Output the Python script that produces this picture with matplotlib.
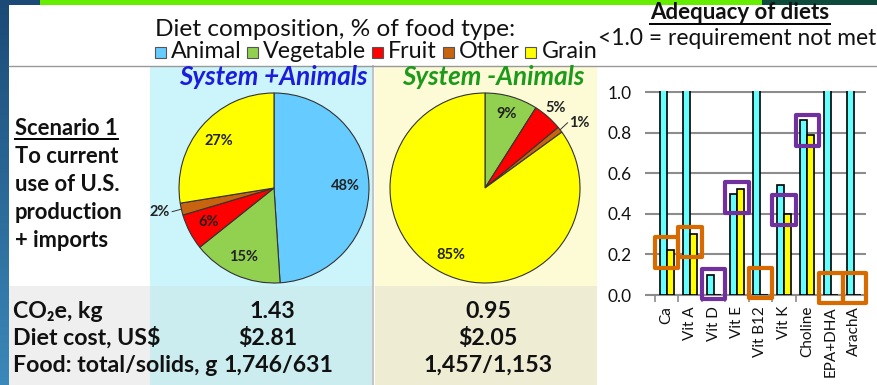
import numpy as np
import matplotlib
matplotlib.use("Agg")
import matplotlib.pyplot as plt
from matplotlib.patches import Rectangle

plt.rcParams['font.family'] = ['Lato', 'DejaVu Sans']

W, H = 878, 385

food_types = ['Animal', 'Vegetable', 'Fruit', 'Other', 'Grain']
food_colors = ['#66ccff', '#92d050', '#ff0000', '#c8640f', '#ffff00']
with_animals = [48, 15, 6, 2, 27]
without_animals = [0, 9, 5, 1, 85]

nutrients = ['Ca', 'Vit A', 'Vit D', 'Vit E', 'Vit B12', 'Vit K', 'Choline', 'EPA+DHA', 'ArachA']
adequacy_plus = [1.5, 1.5, 0.10, 0.50, 1.5, 0.54, 0.86, 1.5, 1.5]
adequacy_minus = [0.22, 0.30, 0.0, 0.52, 0.0, 0.40, 0.79, 0.0, 0.0]
flag_level = [0.21, 0.26, 0.055, 0.48, 0.06, 0.42, 0.81, 0.035, 0.035]
flag_kind = ['orange', 'orange', 'purple', 'purple', 'orange', 'purple', 'purple', 'orange', 'orange']

scenario_lines = ['To current', 'use of U.S.', 'production', '+ imports']
metric_labels = ['CO\u2082e, kg', 'Diet cost, US$', 'Food: total/solids, g']
metric_plus = ['1.43', '$2.81', '1,746/631']
metric_minus = ['0.95', '$2.05', '1,457/1,153']

fig = plt.figure(figsize=(W / 100, H / 100), dpi=100)
bg = fig.add_axes([0, 0, 1, 1])
bg.set_xlim(0, W)
bg.set_ylim(H, 0)
bg.axis('off')

# slide frame
grad = np.linspace(0, 1, 100).reshape(-1, 1)
cm = matplotlib.colors.LinearSegmentedColormap.from_list('s', ['#1b4a76', '#3b88ba'])
bg.imshow(grad, cmap=cm, extent=(0, 9, H, 0), aspect='auto', zorder=1)
bg.add_patch(Rectangle((0, 0), 40, 5, fc='#1b4a76', ec='none', zorder=1))
bg.add_patch(Rectangle((40, 0), 722, 5, fc='#66ee00', ec='none', zorder=1))
bg.add_patch(Rectangle((762, 0), 116, 5, fc='#0d4a3c', ec='none', zorder=1))

# panels
bg.add_patch(Rectangle((150, 66), 222, 220, fc='#ccf5fb', ec='none'))
bg.add_patch(Rectangle((375, 66), 222, 220, fc='#fdfbd6', ec='none'))
bg.add_patch(Rectangle((9, 286), 141, 99, fc='#efefef', ec='none'))
bg.add_patch(Rectangle((150, 286), 222, 99, fc='#cbedef', ec='none'))
bg.add_patch(Rectangle((375, 286), 222, 99, fc='#efecd4', ec='none'))
bg.plot([373.5, 373.5], [66, 385], color='#c4c4c4', lw=1.5)
bg.plot([9, W], [66, 66], color='#999999', lw=1)

fig.canvas.draw()
rend = fig.canvas.get_renderer()
ink = '#111111'


def width_of(s, **kw):
    t = bg.text(0, 0, s, fontsize=10, **kw)
    w = t.get_window_extent(renderer=rend).width
    t.remove()
    return w


def size_for(s, target, **kw):
    return 10 * target / width_of(s, **kw)


def underline(t, y):
    bb = t.get_window_extent(renderer=rend)
    bg.plot([bb.x0, bb.x1], [y, y], color='black', lw=1.4)


# header texts
fs = size_for('Diet composition, % of food type:', 362)
bg.text(155, 36, 'Diet composition, % of food type:', ha='left', va='baseline', fontsize=fs, color=ink)

widths = [width_of(n) for n in food_types]
scale = (442 - 5 * 11 - 5 * 5 - 4 * 6) / sum(widths)
x = 155
for name, col, w in zip(food_types, food_colors, widths):
    bg.add_patch(Rectangle((x, 47), 11, 11, fc=col, ec='#555555', lw=0.8))
    bg.text(x + 16, 58, name, ha='left', va='baseline', fontsize=10 * scale, color=ink)
    x = x + 16 + w * scale + 6

fs = size_for('Adequacy of diets', 180, fontweight='bold')
t = bg.text(740, 19, 'Adequacy of diets', ha='center', va='baseline', fontsize=fs, fontweight='bold', color=ink)
underline(t, 24)
fs = size_for('<1.0 = requirement not met', 278)
bg.text(598, 45, '<1.0 = requirement not met', ha='left', va='baseline', fontsize=fs, color=ink)

# left column
fs = size_for('production', 108, fontweight='bold')
t = bg.text(15, 135, 'Scenario 1', ha='left', va='baseline', fontsize=fs, fontweight='bold', color=ink)
underline(t, 139)
for i, line in enumerate(scenario_lines):
    bg.text(15, 163 + 28 * i, line, ha='left', va='baseline', fontsize=fs, fontweight='bold', color=ink)

fs = size_for('Food: total/solids, g', 205, fontweight='bold')
plus_x = [272, 268, 278]
for i, lab in enumerate(metric_labels):
    y = 318 + 27 * i
    bg.text(13, y, lab, ha='left', va='baseline', fontsize=fs, fontweight='bold', color=ink)
    bg.text(plus_x[i], y, metric_plus[i], ha='center', va='baseline', fontsize=fs, fontweight='bold', color=ink)
    bg.text(488, y, metric_minus[i], ha='center', va='baseline', fontsize=fs, fontweight='bold', color=ink)

# panel titles
fs = size_for('System +Animals', 188, fontweight='bold', style='italic')
bg.text(273, 85, 'System +Animals', ha='center', va='baseline', fontsize=fs, fontweight='bold', style='italic', color='#1c1cdc')
bg.text(493, 85, 'System -Animals', ha='center', va='baseline', fontsize=fs, fontweight='bold', style='italic', color='#1b9a1b')

# pies
R = 95
pct_fs = size_for('48%', 29, fontweight='bold')


def pie_axes(cx, cy):
    s = 2.5 * R
    return fig.add_axes([(cx - s / 2) / W, 1 - (cy + s / 2) / H, s / W, s / H])


def draw_pie(ax, vals, dist, leader):
    wedges, _ = ax.pie(vals, colors=food_colors, startangle=90, counterclock=False,
                       wedgeprops=dict(edgecolor='#333333', linewidth=0.8))
    for w, v, d, ld in zip(wedges, vals, dist, leader):
        if v == 0:
            continue
        ang = np.deg2rad((w.theta1 + w.theta2) / 2)
        c, s = np.cos(ang), np.sin(ang)
        ha = 'center'
        if ld:
            ax.plot([1.0 * c, (d - 0.02) * c], [1.0 * s, d * s], color='#333333', lw=0.7)
            ha = 'right' if c < 0 else 'left'
        ax.text(d * c, d * s, f'{v}%', ha=ha, va='center', fontsize=pct_fs, fontweight='bold', color='#222222')
    ax.set_xlim(-1.25, 1.25)
    ax.set_ylim(-1.25, 1.25)


ax1 = pie_axes(274, 188)
draw_pie(ax1, with_animals, [0.75, 0.8, 0.78, 1.12, 0.76], [False, False, False, True, False])
ax2 = pie_axes(485, 188)
draw_pie(ax2, without_animals, [0, 0.81, 1.12, 1.12, 0.79], [False, False, False, True, False])

# adequacy bars
tick_fs = size_for('1.0', 24)
lab_fs = size_for('EPA+DHA', 70)
axb = fig.add_axes([655 / W, 1 - 295 / H, 211 / W, 204 / H])
axb.patch.set_alpha(0)
xi = np.arange(len(nutrients))
axb.bar(xi - 0.15, adequacy_plus, width=0.3, color='#66ffff', edgecolor='black', linewidth=1.2, zorder=3)
axb.bar(xi + 0.15, adequacy_minus, width=0.3, color='#ffff00', edgecolor='black', linewidth=1.2, zorder=3)
box_colors = {'orange': '#d86a00', 'purple': '#7030a0'}
for i, (lv, kind) in enumerate(zip(flag_level, flag_kind)):
    axb.add_patch(Rectangle((i - 0.5, lv - 0.075), 1.0, 0.15, fill=False, ec=box_colors[kind],
                            lw=3, joinstyle='round', zorder=5, clip_on=False))
axb.set_xlim(-0.5, len(nutrients) - 0.5)
axb.set_ylim(0, 1.005)
axb.set_yticks([0, 0.2, 0.4, 0.6, 0.8, 1.0])
axb.set_yticklabels(['0.0', '0.2', '0.4', '0.6', '0.8', '1.0'], fontsize=tick_fs, color=ink)
axb.yaxis.grid(True, color='#8c8c8c', lw=1.5, zorder=0)
axb.tick_params(axis='y', length=7, width=1.5, color='#8c8c8c', pad=10)
axb.set_xticks(xi)
axb.set_xticklabels(nutrients, rotation=90, fontsize=lab_fs, color=ink)
axb.tick_params(axis='x', length=0, pad=8)
axb.set_xticks(np.arange(len(nutrients) + 1) - 0.5, minor=True)
axb.tick_params(axis='x', which='minor', length=5, width=1.2, color='#8c8c8c')
for sp in ['top', 'right', 'left']:
    axb.spines[sp].set_visible(False)
axb.spines['bottom'].set_color('#8c8c8c')
axb.spines['bottom'].set_linewidth(1.5)

fig.savefig('out.png', dpi=100)
